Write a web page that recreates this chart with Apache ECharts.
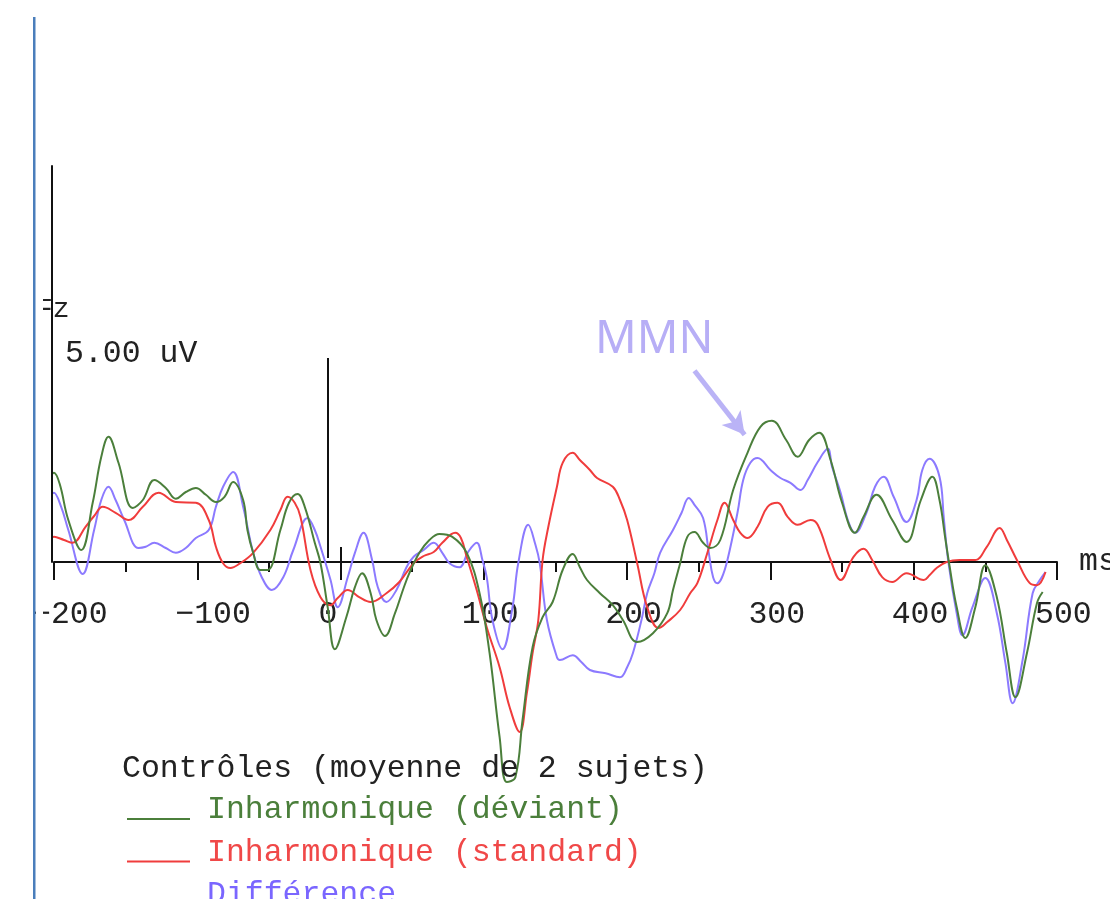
<!DOCTYPE html>
<html>
<head>
<meta charset="utf-8">
<script src="https://cdn.jsdelivr.net/npm/echarts@6/dist/echarts.min.js"></script>
<style>
  html, body { margin: 0; padding: 0; background: #ffffff; }
  #chart { width: 1110px; height: 899px; }
</style>
</head>
<body>
<div id="chart"></div>
<script>
// Time axis (ms) and amplitude scale (uV)
const timeMin = -200;
const timeMax = 500;
const timeStep = 100;
const ampMin = 0;
const ampMax = 9.9;

// Grand-average ERPs at Fz, [time ms, amplitude uV]
const deviant = [
  [-208, 1.30], [-204, 1.95], [-200, 2.23], [-196, 1.95], [-190, 1.05], [-181, 0.30],
  [-173, 1.48], [-167, 2.63], [-162, 3.13], [-155, 2.48], [-145, 1.35], [-138, 1.55],
  [-130, 2.05], [-122, 1.85], [-115, 1.58], [-108, 1.75], [-101, 1.85], [-94, 1.68],
  [-87, 1.50], [-81, 1.63], [-75, 2.00], [-68, 1.55], [-65, 0.80], [-61, 0.23],
  [-56, -0.20], [-51, -0.20], [-42, 0.80], [-36, 1.48], [-30, 1.70], [-25, 1.38],
  [-18, 0.48], [-14, -0.03], [-9, -1.13], [-4, -2.18], [4, -1.38], [10, -0.63],
  [15, -0.28], [21, -0.78], [25, -1.45], [31, -1.85], [38, -1.28], [44, -0.65],
  [48, -0.28], [55, 0.23], [62, 0.55], [69, 0.70], [78, 0.63], [88, 0.23],
  [97, -0.78], [104, -2.28], [111, -4.38], [116, -5.50], [122, -5.38], [127, -3.95],
  [134, -2.13], [141, -1.38], [148, -1.00], [155, -0.20], [162, 0.20], [167, -0.13],
  [172, -0.45], [181, -0.78], [190, -1.08], [197, -1.45], [207, -2.00], [218, -1.78],
  [228, -1.28], [232, -0.70], [237, -0.03], [242, 0.63], [247, 0.75], [253, 0.48],
  [258, 0.35], [265, 0.55], [274, 1.80], [284, 2.73], [293, 3.38], [301, 3.53],
  [311, 3.05], [319, 2.63], [327, 3.05], [334, 3.23], [342, 2.55], [350, 1.48],
  [359, 0.73], [365, 1.13], [374, 1.68], [385, 1.05], [395, 0.50], [405, 1.55],
  [413, 2.13], [418, 1.55], [422, 0.60], [425, -0.10], [430, -1.13], [436, -1.90],
  [443, -1.13], [450, -0.08], [458, -0.88], [465, -2.28], [471, -3.38], [479, -2.28],
  [486, -1.03], [490, -0.75]
];

const standard = [
  [-208, 0.23], [-200, 0.63], [-193, 0.55], [-187, 0.48], [-178, 0.88], [-172, 1.15],
  [-166, 1.38], [-157, 1.23], [-148, 1.05], [-138, 1.38], [-127, 1.73], [-115, 1.50],
  [-101, 1.48], [-92, 1.05], [-87, 0.38], [-82, -0.03], [-77, -0.15], [-70, -0.03],
  [-61, 0.23], [-49, 0.80], [-42, 1.30], [-37, 1.63], [-32, 1.48], [-28, 1.13],
  [-21, -0.20], [-14, -0.88], [-7, -1.08], [-2, -0.90], [5, -0.70], [13, -0.88],
  [21, -1.00], [32, -0.78], [41, -0.50], [51, -0.03], [58, 0.15], [65, 0.25],
  [71, 0.48], [80, 0.73], [84, 0.60], [88, 0.13], [95, -0.70], [102, -1.63],
  [111, -2.63], [118, -3.63], [125, -4.25], [130, -3.28], [134, -2.28], [138, -1.45],
  [141, 0.05], [145, 0.88], [151, 1.88], [155, 2.48], [162, 2.73], [167, 2.55],
  [174, 2.30], [179, 2.10], [190, 1.88], [195, 1.55], [200, 1.05], [207, -0.03],
  [214, -1.13], [222, -1.65], [228, -1.50], [237, -1.20], [244, -0.78], [249, -0.53],
  [256, 0.23], [263, 1.05], [268, 1.48], [274, 1.05], [279, 0.73], [284, 0.60],
  [291, 0.88], [298, 1.38], [305, 1.48], [312, 1.13], [319, 0.93], [328, 1.05],
  [333, 0.93], [342, 0.05], [349, -0.45], [358, 0.13], [365, 0.33], [371, 0.05],
  [378, -0.38], [385, -0.50], [395, -0.28], [407, -0.45], [411, -0.33], [416, -0.15],
  [423, 0.00], [432, 0.05], [443, 0.05], [451, 0.38], [460, 0.85], [465, 0.55],
  [472, 0.05], [481, -0.53], [486, -0.58], [492, -0.25]
];

const difference = [
  [-208, 1.10], [-200, 1.73], [-195, 1.38], [-190, 0.80], [-180, -0.30], [-172, 0.80],
  [-167, 1.55], [-162, 1.88], [-157, 1.55], [-151, 1.05], [-141, 0.35], [-136, 0.38],
  [-130, 0.48], [-122, 0.35], [-115, 0.23], [-108, 0.35], [-101, 0.60], [-92, 0.80],
  [-87, 1.38], [-82, 1.88], [-75, 2.25], [-68, 1.38], [-61, 0.23], [-55, -0.38],
  [-48, -0.70], [-40, -0.38], [-33, 0.30], [-23, 1.10], [-18, 0.80], [-14, 0.38],
  [-7, -0.45], [-2, -1.13], [5, -0.38], [10, 0.23], [16, 0.73], [22, 0.05],
  [26, -0.63], [32, -1.00], [39, -0.70], [46, -0.13], [51, 0.13], [58, 0.30],
  [65, 0.48], [71, 0.23], [76, -0.03], [83, -0.13], [89, 0.25], [95, 0.48],
  [99, 0.05], [102, -0.38], [106, -1.45], [113, -2.18], [120, -1.13], [124, -0.03],
  [131, 0.93], [136, 0.43], [139, -0.03], [144, -1.45], [151, -2.38], [153, -2.45],
  [162, -2.33], [168, -2.50], [174, -2.70], [185, -2.78], [195, -2.88], [200, -2.63],
  [204, -2.28], [210, -1.45], [214, -0.78], [219, -0.28], [223, 0.23], [232, 0.80],
  [238, 1.23], [243, 1.60], [247, 1.43], [253, 1.10], [257, 0.23], [260, -0.38],
  [263, -0.53], [266, -0.40], [270, 0.05], [277, 1.23], [281, 2.05], [286, 2.48],
  [291, 2.60], [300, 2.30], [307, 2.10], [314, 1.98], [321, 1.80], [326, 2.05],
  [333, 2.50], [340, 2.83], [343, 2.38], [349, 1.73], [354, 1.05], [359, 0.73],
  [367, 1.23], [373, 1.88], [379, 2.13], [386, 1.63], [395, 1.00], [402, 1.55],
  [406, 2.30], [411, 2.58], [418, 2.13], [421, 1.10], [424, 0.05], [430, -1.28],
  [434, -1.83], [441, -1.13], [450, -0.40], [458, -1.28], [464, -2.53], [469, -3.53],
  [476, -2.45], [483, -0.78], [488, -0.45], [492, -0.25]
];

const seriesNames = ['Inharmonique (déviant)', 'Inharmonique (standard)', 'Différence'];
const lineColors = ['#4b7f3b', '#f03c3c', '#8c7aff'];
const legendTextColors = ['#4b7f3b', '#f04848', '#7a66ff'];
const legendTitle = 'Contrôles (moyenne de 2 sujets)';
const channelName = 'Fz';
const unitName = 'ms';

// Calibration bar: time position and amplitude span
const scaleBarTime = -9;
const scaleBarSpan = [0.1, 5.1];
const scaleBarText = '5.00 uV';

// MMN annotation arrow, in data coordinates [ms, uV]
const mmnText = 'MMN';
const mmnArrow = [[247, 4.78], [282, 3.18]];

const MONO = "'Liberation Mono', 'DejaVu Sans Mono', monospace";
const INK = '#222222';

const chart = echarts.init(document.getElementById('chart'), null, { renderer: 'canvas' });

const erpSeries = [deviant, standard, difference].map((data, i) => ({
  name: seriesNames[i],
  type: 'line',
  data: data,
  symbol: 'none',
  showSymbol: false,
  smooth: 0.4,
  clip: false,
  silent: true,
  z: 3 + (2 - i),
  itemStyle: { color: lineColors[i], borderWidth: 0 },
  lineStyle: { color: lineColors[i], width: 2 }
}));

// Calibration bar, upper part of the zero tick and the MMN arrow
erpSeries[0].markLine = {
  silent: true,
  animation: false,
  label: { show: false },
  emphasis: { disabled: true },
  data: [
    [
      { coord: [scaleBarTime, scaleBarSpan[0]], symbol: 'none' },
      { coord: [scaleBarTime, scaleBarSpan[1]], symbol: 'none', lineStyle: { color: '#111', width: 2, type: 'solid' } }
    ],
    [
      { coord: [0, 0], symbol: 'none' },
      { coord: [0, 0.375], symbol: 'none', lineStyle: { color: '#111', width: 2, type: 'solid' } }
    ],
    [
      { coord: mmnArrow[0], symbol: 'none' },
      { coord: mmnArrow[1], symbol: 'arrow', symbolSize: [18, 22], lineStyle: { color: '#bab3f6', width: 5, type: 'solid' }, itemStyle: { color: '#bab3f6' } }
    ]
  ]
};

const option = {
  backgroundColor: '#ffffff',
  animation: false,
  grid: {
    left: 54, right: 53, top: 166, bottom: 337,
    containLabel: false,
    outerBoundsMode: 'none'
  },
  title: {
    text: legendTitle,
    left: 122,
    top: 753,
    padding: 0,
    textStyle: { fontFamily: MONO, fontSize: 31.5, fontWeight: 'normal', color: INK, lineHeight: 32 }
  },
  legend: {
    orient: 'vertical',
    left: 127,
    top: 794,
    height: 200,
    padding: 0,
    itemGap: 10.5,
    itemWidth: 75,
    itemHeight: 20,
    selectedMode: false,
    icon: 'path://M0 0h0.01v0.01h-0.01Z M74.99 0h0.01v0.01h-0.01Z M0 18h63v2h-63Z',
    itemStyle: { borderWidth: 0 },
    textStyle: { fontFamily: MONO, fontSize: 31.5, lineHeight: 32 },
    data: seriesNames.map((n, i) => ({ name: n, textStyle: { color: legendTextColors[i] } }))
  },
  xAxis: {
    type: 'value',
    min: timeMin,
    max: timeMax,
    interval: timeStep,
    name: unitName,
    nameLocation: 'end',
    nameGap: 22,
    nameTextStyle: { fontFamily: MONO, fontSize: 31.5, color: INK, verticalAlign: 'middle' },
    axisLine: { show: true, onZero: false, lineStyle: { color: '#111', width: 2 } },
    axisTick: { show: true, length: 18, lineStyle: { color: '#111', width: 2 } },
    minorTick: { show: true, splitNumber: 2, length: 10, lineStyle: { color: '#111', width: 2 } },
    splitLine: { show: false },
    axisLabel: {
      show: true,
      margin: 37,
      align: 'left',
      padding: [0, 0, 0, -22],
      fontFamily: MONO,
      fontSize: 31.5,
      color: INK,
      formatter: v => (v < 0 ? '\u2212' + Math.abs(v) : String(v))
    }
  },
  yAxis: {
    type: 'value',
    min: ampMin,
    max: ampMax,
    offset: 2,
    axisLine: { show: true, onZero: false, lineStyle: { color: '#111', width: 2 } },
    axisTick: { show: false },
    axisLabel: { show: false },
    splitLine: { show: false }
  },
  graphic: [
    // page border line on the left
    { type: 'rect', shape: { x: 33, y: 17, width: 2.5, height: 882 }, style: { fill: '#4a7ebb' }, z: 120, silent: true },
    // channel name and calibration text
    { type: 'text', style: { x: 36, y: 310, text: channelName, font: "28px 'Liberation Mono'", fill: INK, verticalAlign: 'middle' }, z: 50, silent: true },
    { type: 'text', style: { x: 65, y: 354, text: scaleBarText, font: "31.5px 'Liberation Mono'", fill: INK, verticalAlign: 'middle' }, z: 50, silent: true },
    // annotation text
    { type: 'text', style: { x: 595, y: 340, text: mmnText, font: "46px 'Noto Sans'", fill: '#b7aef6', verticalAlign: 'middle' }, z: 50, silent: true },
    // left edge of the plot panel hides anything drawn before it
    { type: 'rect', shape: { x: 36, y: 0, width: 7, height: 899 }, style: { fill: '#ffffff' }, z: 100, silent: true }
  ],
  series: erpSeries
};

chart.setOption(option);
</script>
</body>
</html>
